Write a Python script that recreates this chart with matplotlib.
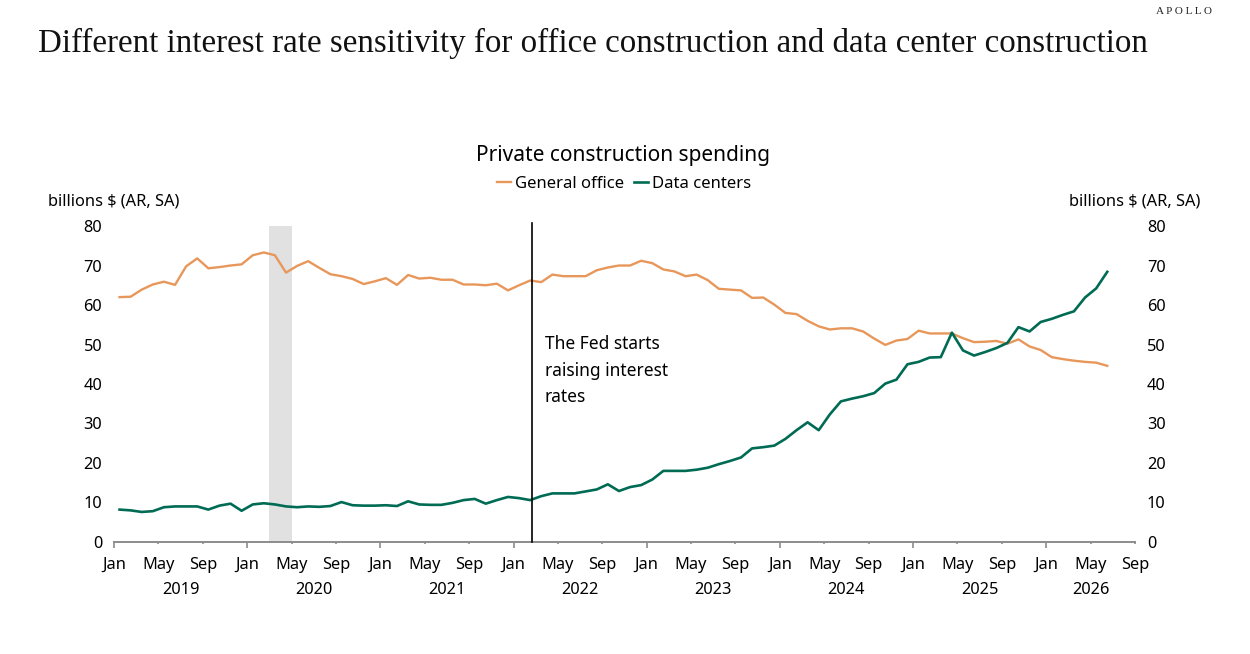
import numpy as np
import matplotlib.pyplot as plt
import matplotlib.transforms as mtransforms
from matplotlib.lines import Line2D

# monthly values, Jan 2019 .. Jun 2026, billions $ (AR, SA)
office = [62.0, 62.1, 63.9, 65.2, 65.9, 65.1, 69.8, 71.8, 69.3, 69.6, 70.0, 70.3,
          72.6, 73.3, 72.6, 68.2, 69.9, 71.1, 69.4, 67.8, 67.3, 66.6, 65.3, 66.0,
          66.8, 65.1, 67.6, 66.7, 66.9, 66.4, 66.4, 65.2, 65.2, 65.0, 65.4, 63.7,
          65.0, 66.2, 65.8, 67.7, 67.3, 67.3, 67.3, 68.8, 69.5, 70.0, 70.0, 71.2,
          70.6, 69.0, 68.5, 67.3, 67.7, 66.3, 64.1, 63.9, 63.7, 61.8, 61.9, 60.1,
          58.0, 57.7, 56.0, 54.6, 53.8, 54.1, 54.1, 53.3, 51.5, 49.9, 51.0, 51.4,
          53.5, 52.8, 52.8, 52.8, 51.6, 50.6, 50.7, 50.9, 50.2, 51.3, 49.5, 48.6,
          46.8, 46.3, 45.9, 45.6, 45.4, 44.6]
data_centers = [8.2, 8.0, 7.6, 7.8, 8.8, 9.0, 9.0, 9.0, 8.2, 9.2, 9.7, 7.9,
                9.5, 9.8, 9.5, 9.0, 8.8, 9.0, 8.9, 9.1, 10.1, 9.3, 9.2, 9.2,
                9.3, 9.1, 10.3, 9.5, 9.4, 9.4, 9.9, 10.6, 10.9, 9.7, 10.6, 11.4,
                11.1, 10.6, 11.6, 12.3, 12.3, 12.3, 12.8, 13.3, 14.6, 12.9, 13.9, 14.4,
                15.8, 18.0, 18.0, 18.0, 18.3, 18.8, 19.7, 20.5, 21.4, 23.7, 24.0, 24.4,
                26.1, 28.3, 30.3, 28.3, 32.3, 35.6, 36.3, 36.9, 37.7, 40.1, 41.1, 45.0,
                45.6, 46.7, 46.8, 53.0, 48.5, 47.2, 48.1, 49.1, 50.4, 54.4, 53.3, 55.7,
                56.5, 57.5, 58.4, 61.9, 64.2, 68.4]

years = [2019, 2020, 2021, 2022, 2023, 2024, 2025, 2026]
tick_months = ["Jan", "May", "Sep"]
recession = (14, 16)      # months since Jan 2019
fed_hike = 37.7
last_month = 92           # Sep 2026

orange = "#E8975B"
green = "#006B54"
sans = ["Noto Sans", "DejaVu Sans"]
plt.rcParams['font.family'] = sans

fig = plt.figure(figsize=(12.5, 6.54), dpi=100)
ax = fig.add_axes([0.0912, 0.1713, 0.8168, 0.4831])

x = np.arange(len(office)) + 0.5
ax.axvspan(recession[0], recession[1], ymin=0, ymax=1.01, color="#E1E1E1", lw=0, zorder=0)
ax.plot(x, office, color=orange, lw=1.7, zorder=3)
ax.plot(x, data_centers, color=green, lw=1.9, zorder=4)
ax.axvline(fed_hike, ymin=0, ymax=1.01, color="black", lw=1.2, clip_on=False, zorder=5)
ax.text(fed_hike + 1.1, 52.4, "The Fed starts\nraising interest\nrates", fontsize=12.5,
        va="top", ha="left", linespacing=1.62)

ax.set_xlim(0, last_month)
ax.set_ylim(0, 80)
for s in ["top", "right", "left"]:
    ax.spines[s].set_visible(False)
ax.spines["bottom"].set_color("#8C8C8C")
ax.spines["bottom"].set_linewidth(1.4)

major = np.arange(0, last_month + 1, 12)
minor = [m for m in range(0, last_month + 1, 4) if m % 12 != 0]
ax.set_xticks(major)
ax.set_xticklabels(["Jan"] * len(major))
ax.set_xticks(minor, minor=True)
ax.set_xticklabels([tick_months[(m % 12) // 4] for m in minor], minor=True)
ax.tick_params(axis="x", which="major", length=4.5, width=1.2, color="#8C8C8C", pad=6.3, labelsize=11.8)
ax.tick_params(axis="x", which="minor", length=1.6, width=1.2, color="#8C8C8C", pad=9.2, labelsize=11.8)

ax.set_yticks(range(0, 81, 10))
ax.tick_params(axis="y", left=False, right=False, labelleft=True, labelright=True,
               labelsize=11.8, pad=5)

trans = mtransforms.blended_transform_factory(ax.transData, ax.transAxes)
for i, yr in enumerate(years):
    start = i * 12
    end = min(start + 12, last_month)
    ax.text((start + end) / 2, -0.152, str(yr), transform=trans, ha="center", va="center",
            fontsize=11.8)

fig.text(38 / 1250, 1 - 43 / 654,
         "Different interest rate sensitivity for office construction and data center construction",
         family="Liberation Serif", fontsize=23.8, ha="left", va="center", color="#111111")
fig.text(1212 / 1250, 1 - 11 / 654, "A P O L L O", family="Liberation Serif", fontsize=8,
         ha="right", va="center", color="#222222")
fig.text(623 / 1250, 1 - 156 / 654, "Private construction spending", fontsize=15,
         ha="center", va="center")
fig.text(48 / 1250, 1 - 201 / 654, "billions $ (AR, SA)", fontsize=11.8, ha="left", va="center")
fig.text(1200 / 1250, 1 - 201 / 654, "billions $ (AR, SA)", fontsize=11.8, ha="right", va="center")

handles = [Line2D([], [], color=orange, lw=1.7), Line2D([], [], color=green, lw=1.9)]
fig.legend(handles, ["General office", "Data centers"], loc="center",
           bbox_to_anchor=(624 / 1250, 1 - 184 / 654), ncol=2, frameon=False, fontsize=12,
           handlelength=0.85, handletextpad=0.25, columnspacing=0.6)

fig.savefig("out.png", dpi=100, facecolor="white")
